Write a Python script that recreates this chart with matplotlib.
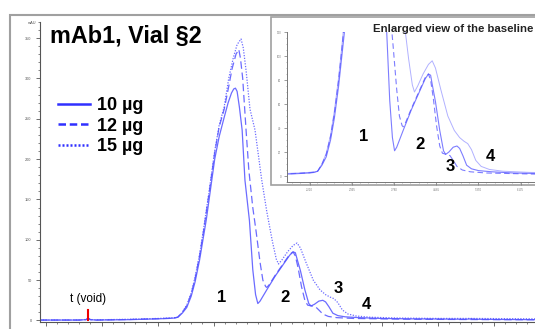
import matplotlib
matplotlib.use("Agg")
import numpy as np
import matplotlib.pyplot as plt
from matplotlib.lines import Line2D
from matplotlib.patches import Rectangle
from matplotlib.ticker import MultipleLocator

plt.rcParams['font.family'] = ['Liberation Sans', 'DejaVu Sans']

# retention time (arbitrary min) and absorbance (mAU)
t10 = [-0.1, 0.6, 0.72, 0.76, 0.8, 0.9, 1.5, 2.0, 2.2, 2.3, 2.36, 2.44, 2.52, 2.6, 2.67, 2.75,
       2.81, 2.87, 2.92, 2.97, 3.02, 3.1, 3.19, 3.26, 3.32, 3.36, 3.39, 3.42, 3.46, 3.51, 3.56,
       3.64, 3.7, 3.75, 3.79, 3.83, 3.95, 4.1, 4.25, 4.36, 4.42, 4.46, 4.5, 4.55, 4.63, 4.7,
       4.74, 4.8, 4.88, 4.95, 5.0, 5.06, 5.13, 5.22, 5.35, 5.6, 6.0, 6.5, 7.0, 7.5, 7.6, 7.7,
       8.2, 8.8]
a10 = [0.5, 0.5, 1.0, 2.5, 1.0, 0.5, 1.0, 2.0, 2.5, 3.0, 4, 9, 16, 30, 48, 75,
       100, 125, 150, 175, 200, 228, 252, 270, 282, 287, 288, 284, 265, 236, 174,
       124, 63, 32, 21, 24, 38, 55, 70, 81, 85, 84, 74, 62, 38, 21,
       18, 20, 24, 25, 23, 17, 9, 6, 4.5, 3.5, 2.5, 2.0, 1.8, 1.5, 2.0, 1.5,
       1.2, 1.0]

t12 = [-0.1, 0.6, 0.72, 0.76, 0.8, 0.9, 1.5, 2.0, 2.2, 2.3, 2.36, 2.44, 2.52, 2.6, 2.67, 2.75,
       2.81, 2.92, 3.02, 3.1, 3.19, 3.27, 3.33, 3.4, 3.45, 3.48, 3.52, 3.58, 3.63, 3.7, 3.76,
       3.83, 3.88, 3.93, 3.95, 3.99, 4.1, 4.25, 4.36, 4.42, 4.46, 4.51, 4.57, 4.63, 4.68, 4.75,
       4.82, 4.88, 4.95, 5.05, 5.2, 5.5, 6.0, 6.5, 7.5, 8.8]
a12 = [0.5, 0.5, 1.0, 2.5, 1.0, 0.5, 1.2, 2.2, 2.7, 3.2, 4, 10, 18, 33, 52, 80,
       106, 158, 208, 240, 262, 290, 312, 330, 336, 325, 300, 236, 186, 140, 110,
       72, 50, 42, 41, 44, 56, 71, 82, 85, 80, 65, 42, 25, 19, 18,
       17, 13, 8, 5, 3.5, 2.5, 2.0, 1.5, 1.2, 0.8]

t15 = [-0.1, 0.6, 0.72, 0.76, 0.8, 0.9, 1.5, 2.0, 2.2, 2.3, 2.36, 2.44, 2.52, 2.6, 2.67, 2.75,
       2.81, 2.92, 3.02, 3.1, 3.19, 3.27, 3.35, 3.42, 3.49, 3.53, 3.58, 3.65, 3.74, 3.86, 3.95,
       4.05, 4.12, 4.16, 4.22, 4.32, 4.42, 4.49, 4.55, 4.65, 4.78, 4.9, 5.0, 5.08, 5.15, 5.22,
       5.3, 5.4, 5.55, 5.8, 6.3, 7.0, 7.6, 8.8]
a15 = [0.5, 0.6, 1.2, 2.8, 1.2, 0.8, 1.5, 2.5, 3.0, 3.5, 4, 10, 19, 34, 54, 82,
       108, 160, 210, 242, 265, 300, 325, 342, 349, 338, 310, 262, 236, 174, 135,
       98, 76, 70, 75, 85, 93, 96, 90, 72, 50, 38, 32, 29, 27, 22,
       13, 8, 5.5, 4, 3, 2.5, 2.5, 2.0]

series_labels = ['10 µg', '12 µg', '15 µg']
peak_names = ['1', '2', '3', '4']
peak_t = [3.15, 4.28, 5.22, 5.72]
peak_a = [28, 29, 40, 20]
inset_peak_t = [3.21, 4.27, 4.83, 5.58]
inset_peak_a = [33, 26, 8, 16]
t_void = 0.76

blue = '#5252ff'

fig = plt.figure(figsize=(5.35, 3.29), dpi=100)

# gray frame round the main chromatogram
fig.patches.append(Rectangle((10/535, -0.2), 1.2, 1.2 - 15/329, transform=fig.transFigure,
                             fill=False, edgecolor='#a0a0a0', lw=1.5, zorder=0))

ax = fig.add_axes([40/535, 7/329, 1 - 40/535, 300/329])
ax.plot(t10, a10, color=blue, lw=0.9, ls='-', alpha=0.85)
ax.plot(t12, a12, color=blue, lw=0.9, ls=(0, (6, 3)), alpha=0.85)
ax.plot(t15, a15, color=blue, lw=0.9, ls=(0, (1, 1.2)), alpha=0.85)
ax.set_xlim(-0.1, 8.74)
ax.set_ylim(-1.9, 370)
ax.yaxis.set_major_locator(MultipleLocator(50))
ax.yaxis.set_minor_locator(MultipleLocator(10))
ax.xaxis.set_major_locator(MultipleLocator(1))
ax.xaxis.set_minor_locator(MultipleLocator(0.2))
for s in ['top', 'right']:
    ax.spines[s].set_visible(False)
for s in ['left', 'bottom']:
    ax.spines[s].set_color('#555555')
    ax.spines[s].set_linewidth(0.8)
ax.tick_params(axis='y', which='major', labelsize=2.8, length=3, width=0.6, colors='#555555', pad=3)
ax.tick_params(axis='y', which='minor', length=1.5, width=0.5, colors='#555555')
ax.tick_params(axis='x', which='major', length=3, width=0.6, colors='#555555', labelbottom=False)
ax.tick_params(axis='x', which='minor', length=1.5, width=0.5, colors='#555555')
ax.patch.set_alpha(0)
ax.text(-0.25, 366, 'mAU', fontsize=2.8, color='#555555', ha='center', va='bottom')

ax.text(0.07, 345, 'mAb1, Vial §2', fontsize=16.8, fontweight='bold', ha='left', va='baseline')

for name, x, y in zip(peak_names, peak_t, peak_a):
    ax.text(x, y, name, fontsize=12, fontweight='bold', ha='center', va='center')

ax.text(t_void, 27, 't (void)', fontsize=8.5, ha='center', va='center')
ax.plot([t_void, t_void], [0, 13], color='#ee0000', lw=1.5)

handles = [Line2D([], [], color='#3030ff', lw=1.8, ls='-'),
           Line2D([], [], color='#3030ff', lw=1.8, ls=(0, (3, 1.5))),
           Line2D([], [], color='#3030ff', lw=1.8, ls=(0, (0.8, 0.8)))]
leg = fig.legend(handles, series_labels, loc='upper left', bbox_to_anchor=(58/535, 1 - 97/329),
                 frameon=False, borderpad=0, borderaxespad=0, labelspacing=0.2,
                 handlelength=1.78, handletextpad=0.39, prop={'size': 13, 'weight': 'bold'})

# inset with the enlarged baseline
fig.patches.append(Rectangle((271/535, 1 - 185/329), 1.0, 168/329, transform=fig.transFigure,
                             facecolor='white', edgecolor='#a0a0a0', lw=1.2, zorder=1))
ins = fig.add_axes([287/535, 1 - 182/329, 1 - 287/535 + 0.02, 150/329], zorder=2)
ins.plot(t10, a10, color=blue, lw=0.8, ls='-', alpha=0.75)
ins.plot(t12, a12, color=blue, lw=0.8, ls=(0, (5, 3)), alpha=0.75)
ins.plot(t15, a15, color=blue, lw=0.7, ls='-', alpha=0.45)
ins.set_xlim(1.79, 6.6)
ins.set_ylim(-5, 120)
ins.set_xticks(np.arange(2.21, 6.6, 0.785))
ins.xaxis.set_minor_locator(MultipleLocator(0.785 / 5))
ins.yaxis.set_major_locator(MultipleLocator(20))
ins.yaxis.set_minor_locator(MultipleLocator(5))
for s in ['top', 'right']:
    ins.spines[s].set_visible(False)
for s in ['left', 'bottom']:
    ins.spines[s].set_color('#777777')
    ins.spines[s].set_linewidth(0.7)
ins.tick_params(which='major', labelsize=2.0, length=2, width=0.5, colors='#777777', pad=2)
ins.tick_params(which='minor', length=1, width=0.4, colors='#777777')
ins.patch.set_alpha(0)
for name, x, y in zip(peak_names, inset_peak_t, inset_peak_a):
    ins.text(x, y, name, fontsize=12, fontweight='bold', ha='center', va='center')
fig.text(373/535, 1 - 29/329, 'Enlarged view of the baseline', fontsize=8.2, fontweight='bold',
         ha='left', va='center', color='#222222', zorder=5)

fig.savefig('out.png', dpi=100)
